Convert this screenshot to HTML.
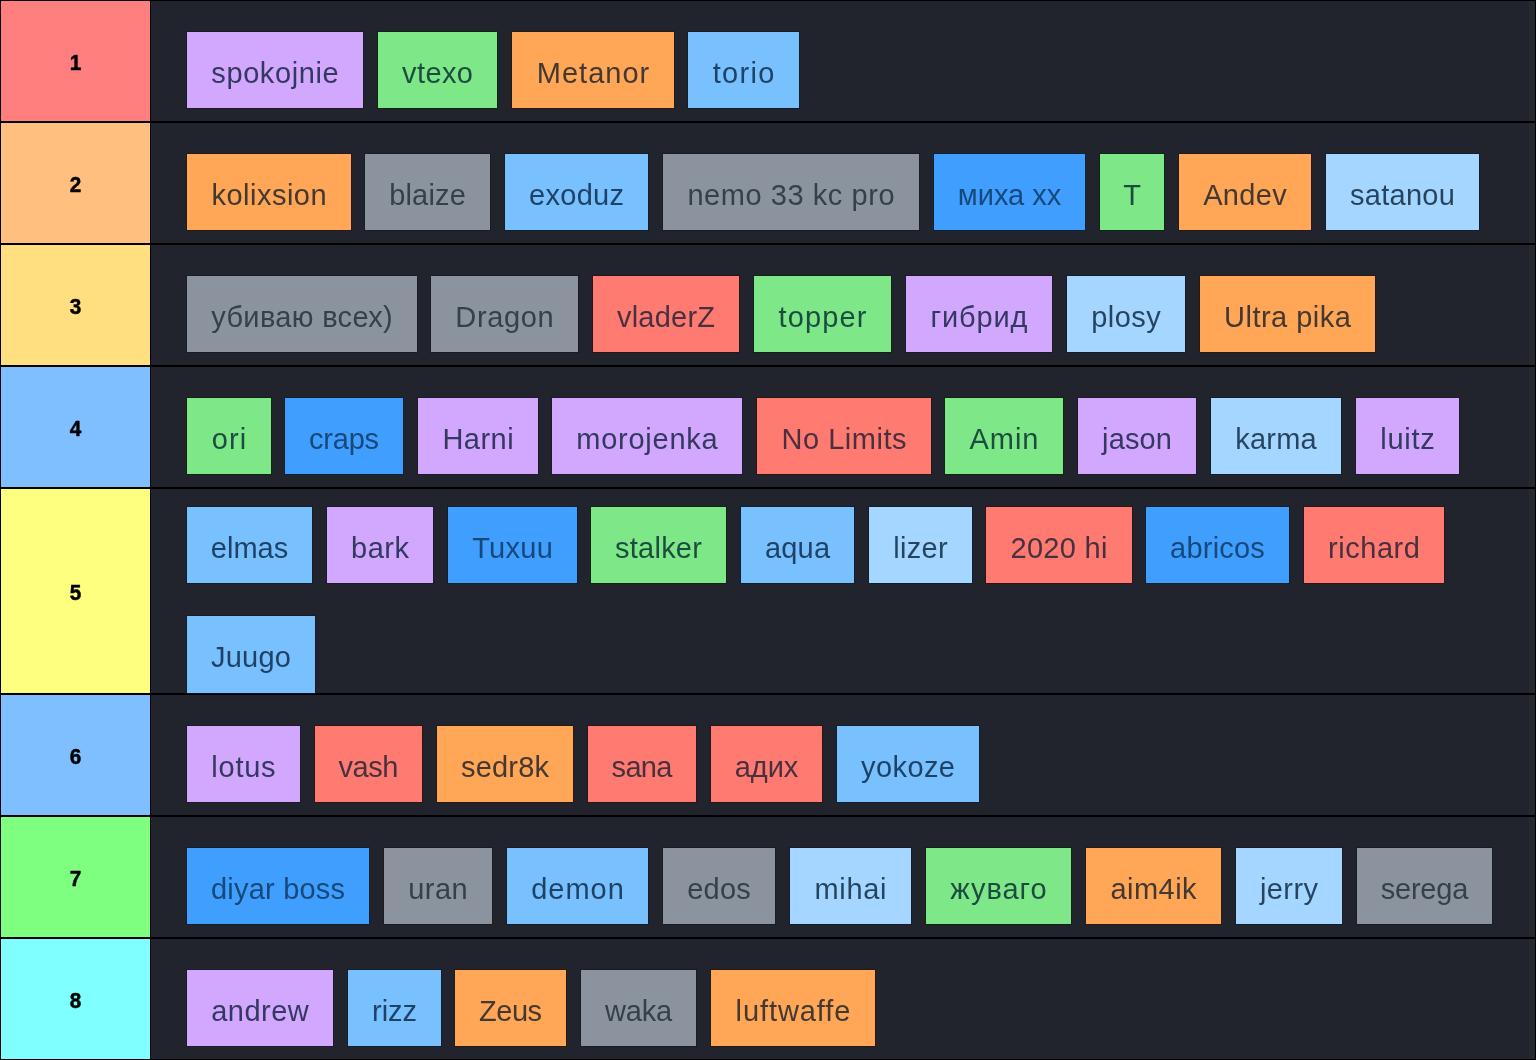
<!DOCTYPE html>
<html lang="ru">
<head>
<meta charset="utf-8">
<title>Tier list</title>
<meta name="viewport" content="width=1536">
<style>
*{box-sizing:border-box;margin:0;padding:0}
html,body{width:1536px;height:1060px;overflow:hidden;background:#000}
body{font-family:"Liberation Sans",sans-serif;position:relative}
.board{position:absolute;left:0;top:0;width:1536px;height:1060px;background:#000;overflow:hidden}
.row{position:absolute;left:1px;width:1534px;background:#21242c}
.label{position:absolute;left:0;top:0;width:149px;height:100%;display:flex;align-items:center;justify-content:center;
  font-weight:700;font-size:23px;color:#000;line-height:1;padding-top:3.8px;padding-right:1px}
.label b{display:inline-block;transform:translate(0px,.5px) scale(.9,.95);-webkit-text-stroke:.5px #000}
.row::after{content:'';position:absolute;right:0;top:0;width:6px;height:100%;background:rgba(255,255,255,.025)}
.sep{position:absolute;left:149px;top:0;width:1px;height:100%;background:#000}
.chip{position:absolute;height:76.6px;font-size:29.0px;line-height:76.6px;text-align:center;white-space:nowrap;overflow:visible}
.chip span{display:inline-block;position:relative;top:2.5px}
.v{background:#d2a8ff;color:rgba(36,44,81,.9);box-shadow:0 0 0 1px rgba(30,17,43,.6)}
.g{background:#7ee787;color:rgba(17,59,55,.9);box-shadow:0 0 0 1px rgba(5,37,8,.6)}
.o{background:#ffa657;color:rgba(47,45,46,.9);box-shadow:0 0 0 1px rgba(45,19,0,.6)}
.b{background:#79c0ff;color:rgba(19,52,84,.9);box-shadow:0 0 0 1px rgba(7,28,47,.6)}
.d{background:#409eff;color:rgba(14,53,92,.82);box-shadow:0 0 0 1px rgba(1,29,58,.6)}
.l{background:#a5d6ff;color:rgba(23,52,78,.9);box-shadow:0 0 0 1px rgba(12,27,39,.6)}
.r{background:#ff7b72;color:rgba(52,41,57,.9);box-shadow:0 0 0 1px rgba(52,12,10,.6)}
.k{background:#8b949e;color:rgba(40,50,62,.86);box-shadow:0 0 0 1px rgba(22,24,27,.6)}
</style>
</head>
<body>
<div class="board">
<div class="row" style="top:1px;height:120px">
<div class="label" style="background:#ff7f7f"><b>1</b></div><div class="sep"></div>
<div class="chip v" style="left:186px;top:31px;width:176px;height:76px;line-height:76px"><span style="letter-spacing:0.61px;margin-right:-0.61px">spokojnie</span></div>
<div class="chip g" style="left:377px;top:31px;width:119px;height:76px;line-height:76px"><span style="letter-spacing:0.43px;margin-right:-0.43px">vtexo</span></div>
<div class="chip o" style="left:511px;top:31px;width:162px;height:76px;line-height:76px"><span style="letter-spacing:1.02px;margin-right:-1.02px">Metanor</span></div>
<div class="chip b" style="left:687px;top:31px;width:111px;height:76px;line-height:76px"><span style="letter-spacing:1.32px;margin-right:-1.32px">torio</span></div>
</div>
<div class="row" style="top:123px;height:120px">
<div class="label" style="background:#ffbf7f"><b>2</b></div><div class="sep"></div>
<div class="chip o" style="left:186px;top:31px;width:164px;height:76px;line-height:76px"><span style="letter-spacing:0.50px;margin-right:-0.50px">kolixsion</span></div>
<div class="chip k" style="left:364px;top:31px;width:125px;height:76px;line-height:76px"><span style="letter-spacing:0.15px;margin-right:-0.15px">blaize</span></div>
<div class="chip b" style="left:504px;top:31px;width:143px;height:76px;line-height:76px"><span style="letter-spacing:0.30px;margin-right:-0.30px">exoduz</span></div>
<div class="chip k" style="left:662px;top:31px;width:256px;height:76px;line-height:76px"><span style="letter-spacing:0.56px;margin-right:-0.56px">nemo 33 kc pro</span></div>
<div class="chip d" style="left:933px;top:31px;width:151px;height:76px;line-height:76px"><span style="letter-spacing:-0.03px;margin-right:0.03px">миха хх</span></div>
<div class="chip g" style="left:1099px;top:31px;width:64px;height:76px;line-height:76px"><span style="letter-spacing:-1.72px;margin-right:1.72px">T</span></div>
<div class="chip o" style="left:1178px;top:31px;width:132px;height:76px;line-height:76px"><span style="letter-spacing:0.35px;margin-right:-0.35px">Andev</span></div>
<div class="chip l" style="left:1325px;top:31px;width:153px;height:76px;line-height:76px"><span style="letter-spacing:0.26px;margin-right:-0.26px">satanou</span></div>
</div>
<div class="row" style="top:245px;height:120px">
<div class="label" style="background:#ffdf7f"><b>3</b></div><div class="sep"></div>
<div class="chip k" style="left:186px;top:31px;width:230px;height:76px;line-height:76px"><span style="letter-spacing:0.32px;margin-right:-0.32px">убиваю всех)</span></div>
<div class="chip k" style="left:430px;top:31px;width:147px;height:76px;line-height:76px"><span style="letter-spacing:0.65px;margin-right:-0.65px">Dragon</span></div>
<div class="chip r" style="left:592px;top:31px;width:146px;height:76px;line-height:76px"><span style="letter-spacing:0.23px;margin-right:-0.23px">vladerZ</span></div>
<div class="chip g" style="left:753px;top:31px;width:137px;height:76px;line-height:76px"><span style="letter-spacing:1.13px;margin-right:-1.13px">topper</span></div>
<div class="chip v" style="left:905px;top:31px;width:146px;height:76px;line-height:76px"><span style="letter-spacing:0.89px;margin-right:-0.89px">гибрид</span></div>
<div class="chip l" style="left:1066px;top:31px;width:118px;height:76px;line-height:76px"><span style="letter-spacing:0.46px;margin-right:-0.46px">plosy</span></div>
<div class="chip o" style="left:1199px;top:31px;width:175px;height:76px;line-height:76px"><span style="letter-spacing:0.48px;margin-right:-0.48px">Ultra pika</span></div>
</div>
<div class="row" style="top:367px;height:120px">
<div class="label" style="background:#7fbfff"><b>4</b></div><div class="sep"></div>
<div class="chip g" style="left:186px;top:31px;width:84px;height:76px;line-height:76px"><span style="letter-spacing:1.16px;margin-right:-1.16px">ori</span></div>
<div class="chip d" style="left:284px;top:31px;width:118px;height:76px;line-height:76px"><span style="letter-spacing:-0.18px;margin-right:0.18px">craps</span></div>
<div class="chip v" style="left:417px;top:31px;width:120px;height:76px;line-height:76px"><span style="letter-spacing:0.48px;margin-right:-0.48px">Harni</span></div>
<div class="chip v" style="left:551px;top:31px;width:190px;height:76px;line-height:76px"><span style="letter-spacing:0.73px;margin-right:-0.73px">morojenka</span></div>
<div class="chip r" style="left:756px;top:31px;width:174px;height:76px;line-height:76px"><span style="letter-spacing:0.54px;margin-right:-0.54px">No Limits</span></div>
<div class="chip g" style="left:944px;top:31px;width:118px;height:76px;line-height:76px"><span style="letter-spacing:0.98px;margin-right:-0.98px">Amin</span></div>
<div class="chip v" style="left:1077px;top:31px;width:118px;height:76px;line-height:76px"><span style="letter-spacing:0.13px;margin-right:-0.13px">jason</span></div>
<div class="chip l" style="left:1210px;top:31px;width:130px;height:76px;line-height:76px"><span style="letter-spacing:0.22px;margin-right:-0.22px">karma</span></div>
<div class="chip v" style="left:1355px;top:31px;width:103px;height:76px;line-height:76px"><span style="letter-spacing:0.74px;margin-right:-0.74px">luitz</span></div>
</div>
<div class="row" style="top:489px;height:204px">
<div class="label" style="background:#ffff7f"><b>5</b></div><div class="sep"></div>
<div class="chip b" style="left:186px;top:18px;width:125px;height:76px;line-height:76px"><span style="letter-spacing:-0.01px;margin-right:0.01px">elmas</span></div>
<div class="chip v" style="left:326px;top:18px;width:106px;height:76px;line-height:76px"><span style="letter-spacing:0.55px;margin-right:-0.55px">bark</span></div>
<div class="chip d" style="left:447px;top:18px;width:129px;height:76px;line-height:76px"><span style="letter-spacing:0.29px;margin-right:-0.29px">Tuxuu</span></div>
<div class="chip g" style="left:590px;top:18px;width:135px;height:76px;line-height:76px"><span style="letter-spacing:0.23px;margin-right:-0.23px">stalker</span></div>
<div class="chip b" style="left:740px;top:18px;width:113px;height:76px;line-height:76px"><span style="letter-spacing:0.20px;margin-right:-0.20px">aqua</span></div>
<div class="chip l" style="left:868px;top:18px;width:103px;height:76px;line-height:76px"><span style="letter-spacing:0.31px;margin-right:-0.31px">lizer</span></div>
<div class="chip r" style="left:985px;top:18px;width:146px;height:76px;line-height:76px"><span style="letter-spacing:0.32px;margin-right:-0.32px">2020 hi</span></div>
<div class="chip d" style="left:1145px;top:18px;width:143px;height:76px;line-height:76px"><span style="letter-spacing:0.21px;margin-right:-0.21px">abricos</span></div>
<div class="chip r" style="left:1303px;top:18px;width:140px;height:76px;line-height:76px"><span style="letter-spacing:0.52px;margin-right:-0.52px">richard</span></div>
<div class="chip b" style="left:186px;top:127px;width:128px;height:77px;line-height:77px"><span style="letter-spacing:0.20px;margin-right:-0.20px">Juugo</span></div>
</div>
<div class="row" style="top:695px;height:120px">
<div class="label" style="background:#7fbfff"><b>6</b></div><div class="sep"></div>
<div class="chip v" style="left:186px;top:31px;width:113px;height:76px;line-height:76px"><span style="letter-spacing:0.75px;margin-right:-0.75px">lotus</span></div>
<div class="chip r" style="left:314px;top:31px;width:107px;height:76px;line-height:76px"><span style="letter-spacing:-0.42px;margin-right:0.42px">vash</span></div>
<div class="chip o" style="left:436px;top:31px;width:136px;height:76px;line-height:76px"><span style="letter-spacing:0.21px;margin-right:-0.21px">sedr8k</span></div>
<div class="chip r" style="left:587px;top:31px;width:108px;height:76px;line-height:76px"><span style="letter-spacing:-0.65px;margin-right:0.65px">sana</span></div>
<div class="chip r" style="left:710px;top:31px;width:111px;height:76px;line-height:76px"><span style="letter-spacing:-0.04px;margin-right:0.04px">адих</span></div>
<div class="chip b" style="left:836px;top:31px;width:142px;height:76px;line-height:76px"><span style="letter-spacing:0.40px;margin-right:-0.40px">yokoze</span></div>
</div>
<div class="row" style="top:817px;height:120px">
<div class="label" style="background:#7fff7f"><b>7</b></div><div class="sep"></div>
<div class="chip d" style="left:186px;top:31px;width:182px;height:76px;line-height:76px"><span style="letter-spacing:0.21px;margin-right:-0.21px">diyar boss</span></div>
<div class="chip k" style="left:383px;top:31px;width:108px;height:76px;line-height:76px"><span style="letter-spacing:0.49px;margin-right:-0.49px">uran</span></div>
<div class="chip b" style="left:506px;top:31px;width:141px;height:76px;line-height:76px"><span style="letter-spacing:0.99px;margin-right:-0.99px">demon</span></div>
<div class="chip k" style="left:662px;top:31px;width:112px;height:76px;line-height:76px"><span style="letter-spacing:0.20px;margin-right:-0.20px">edos</span></div>
<div class="chip l" style="left:789px;top:31px;width:121px;height:76px;line-height:76px"><span style="letter-spacing:0.68px;margin-right:-0.68px">mihai</span></div>
<div class="chip g" style="left:925px;top:31px;width:145px;height:76px;line-height:76px"><span style="letter-spacing:0.96px;margin-right:-0.96px">жуваго</span></div>
<div class="chip o" style="left:1085px;top:31px;width:135px;height:76px;line-height:76px"><span style="letter-spacing:0.48px;margin-right:-0.48px">aim4ik</span></div>
<div class="chip l" style="left:1235px;top:31px;width:106px;height:76px;line-height:76px"><span style="letter-spacing:0.38px;margin-right:-0.38px">jerry</span></div>
<div class="chip k" style="left:1356px;top:31px;width:135px;height:76px;line-height:76px"><span style="letter-spacing:-0.23px;margin-right:0.23px">serega</span></div>
</div>
<div class="row" style="top:939px;height:120px">
<div class="label" style="background:#7fffff"><b>8</b></div><div class="sep"></div>
<div class="chip v" style="left:186px;top:31px;width:146px;height:76px;line-height:76px"><span style="letter-spacing:0.48px;margin-right:-0.48px">andrew</span></div>
<div class="chip b" style="left:347px;top:31px;width:93px;height:76px;line-height:76px"><span style="letter-spacing:-0.03px;margin-right:0.03px">rizz</span></div>
<div class="chip o" style="left:454px;top:31px;width:111px;height:76px;line-height:76px"><span style="letter-spacing:-0.45px;margin-right:0.45px">Zeus</span></div>
<div class="chip k" style="left:580px;top:31px;width:115px;height:76px;line-height:76px"><span style="letter-spacing:-0.18px;margin-right:0.18px">waka</span></div>
<div class="chip o" style="left:710px;top:31px;width:164px;height:76px;line-height:76px"><span style="letter-spacing:0.91px;margin-right:-0.91px">luftwaffe</span></div>
</div>
</div>
</body>
</html>
